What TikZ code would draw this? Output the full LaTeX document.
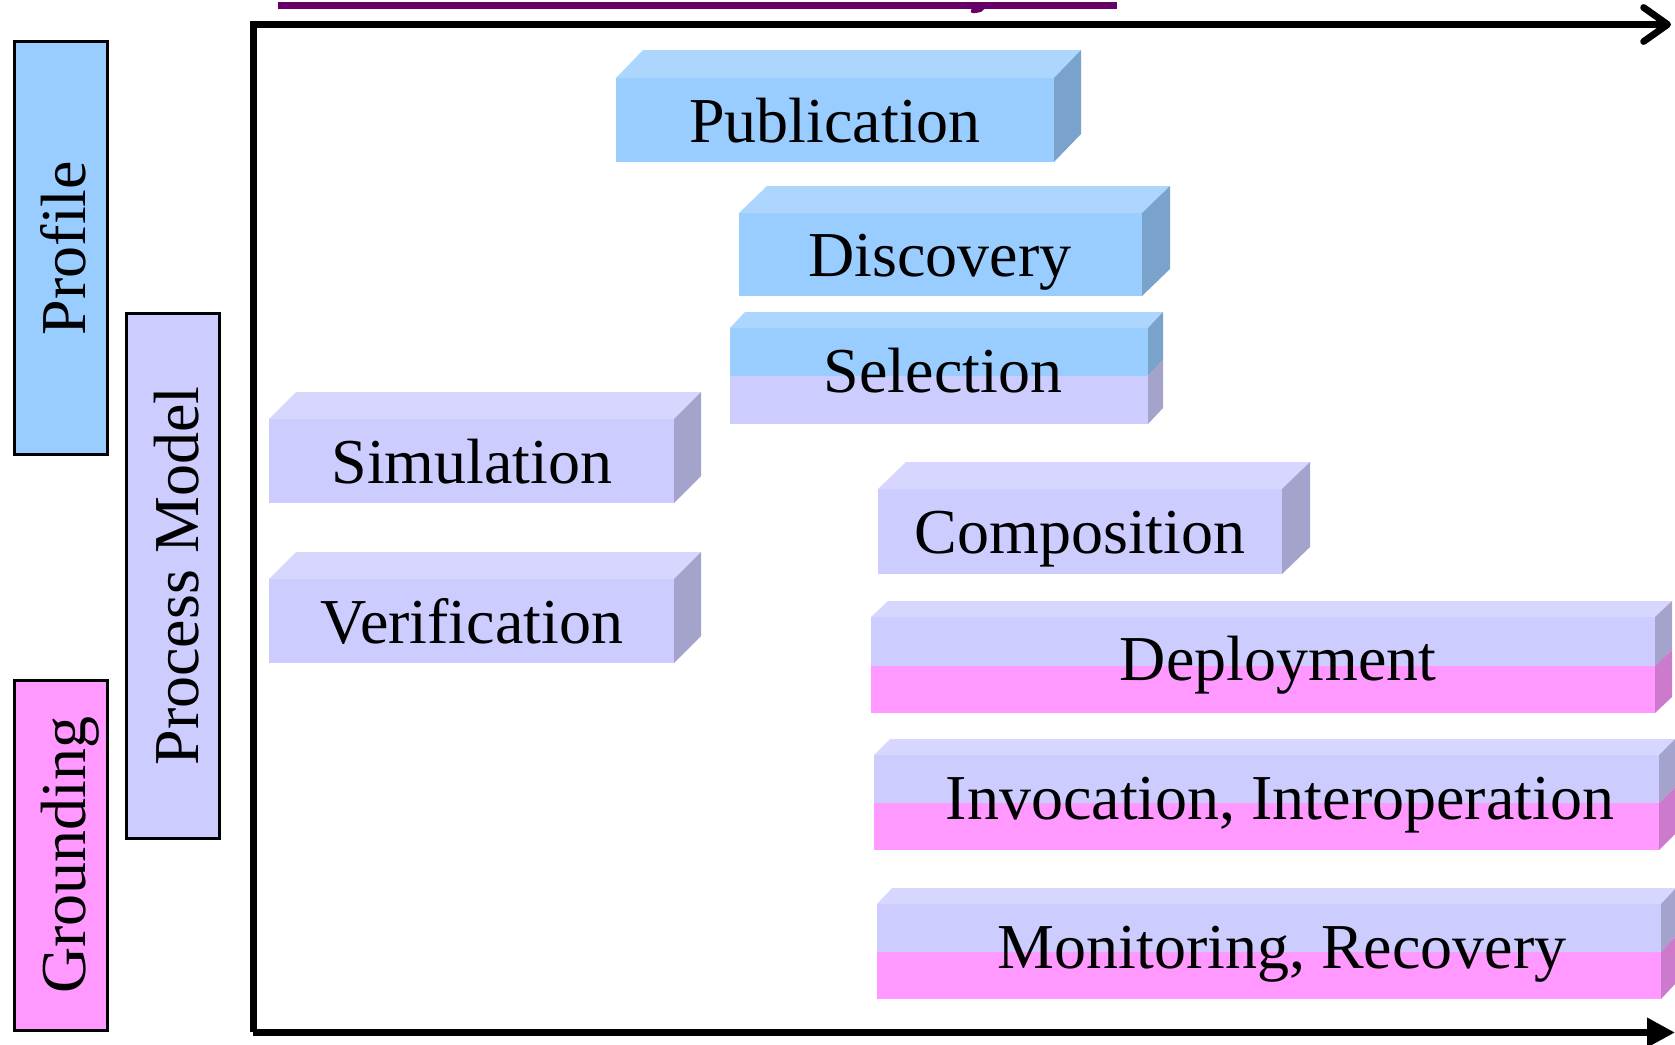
\documentclass[tikz,border=0pt]{standalone}
\usepackage{fontspec}
\setmainfont{Liberation Serif}
\usetikzlibrary{arrows.meta}
\definecolor{bluefront}{HTML}{99CCFF}
\definecolor{bluetop}{HTML}{ADD6FF}
\definecolor{blueside}{HTML}{7AA3CC}
\definecolor{lavfront}{HTML}{CCCCFF}
\definecolor{lavtop}{HTML}{D6D6FF}
\definecolor{lavside}{HTML}{A3A3CC}
\definecolor{pinkfront}{HTML}{FF99FF}
\definecolor{pinktop}{HTML}{FFADFF}
\definecolor{pinkside}{HTML}{CC7ACC}
\definecolor{purp}{HTML}{660066}
% one-colour 3D bar: x1, y1(top), x2, y2(bottom), dx, dy, colour family
\newcommand\boxone[7]{%
  \fill[#7front] (#1,#2) rectangle (#3,#4);
  \fill[#7top] (#1,#2) -- (#1+#5,#2-#6) -- (#3+#5,#2-#6) -- (#3,#2) -- cycle;
  \fill[#7side] (#3,#2) -- (#3+#5,#2-#6) -- (#3+#5,#4-#6) -- (#3,#4) -- cycle;}
% two-colour 3D bar: x1, y1, x2, y2, ysplit, dx, dy, upper family, lower family
\newcommand\boxtwo[9]{%
  \fill[#8front] (#1,#2) rectangle (#3,#5);
  \fill[#9front] (#1,#5) rectangle (#3,#4);
  \fill[#8top] (#1,#2) -- (#1+#6,#2-#7) -- (#3+#6,#2-#7) -- (#3,#2) -- cycle;
  \fill[#8side] (#3,#2) -- (#3+#6,#2-#7) -- (#3+#6,#5-#7) -- (#3,#5) -- cycle;
  \fill[#9side] (#3,#5) -- (#3+#6,#5-#7) -- (#3+#6,#4-#7) -- (#3,#4) -- cycle;}
\begin{document}
\begin{tikzpicture}[x=1pt,y=-1pt,
  lbl/.style={font=\fontsize{64}{72}\selectfont, inner sep=0pt, anchor=base},
  sidebar/.style={draw=black, line width=3pt, inner sep=0pt},
  axis/.style={line width=6.8pt}]
\useasboundingbox (0,0) rectangle (1675,1044);
% clipped title underline
\draw[purp, line width=6.7pt] (278,5.3) -- (1117,5.3);
\draw[purp, line width=4.5pt, line cap=round] (983,6) .. controls (981,10) .. (973,11);
% axes
\coordinate (origin) at (253.3,1032);
\coordinate (ytop) at (253.3,24.5);
\coordinate (xtop) at (1671,24.5);
\coordinate (xstart) at (253,1032.5);
\coordinate (xbot) at (1675,1032.5);
\draw[axis, line join=miter, -{Straight Barb[length=24pt,width=34pt,round]}] (origin) -- (ytop) -- (xtop);
\draw[axis, -{Triangle[length=28pt,width=28pt]}] (xstart) -- (xbot);
% side bars
\node[sidebar, fill=bluefront, minimum width=93pt, minimum height=413pt] (profbar) at (61,248) {};
\node[sidebar, fill=lavfront, minimum width=93pt, minimum height=525pt] (procbar) at (173,576) {};
\node[sidebar, fill=pinkfront, minimum width=93pt, minimum height=350pt] (grndbar) at (61,855.5) {};
\node[lbl, rotate=90] (proftxt) at (85.5,248) {Profile};
\node[lbl, rotate=90] (proctxt) at (198,576) {Process Model};
\node[lbl, rotate=90] (grndtxt) at (85.5,855) {Grounding};
% 3D bars
\boxone{616}{78}{1054}{162}{27}{28}{blue}
\boxone{739}{213}{1142}{296}{28}{27}{blue}
\boxtwo{730}{328}{1148}{424}{376}{15}{16}{blue}{lav}
\boxone{269}{419}{674}{503}{27}{27}{lav}
\boxone{269}{579}{674}{663}{27}{27}{lav}
\boxone{878}{489}{1282}{574}{28}{27}{lav}
\boxtwo{871}{617}{1655}{713}{666}{17}{16}{lav}{pink}
\boxtwo{874}{755}{1659}{850}{803}{16}{16}{lav}{pink}
\boxtwo{877}{904}{1661}{999}{952}{15}{16}{lav}{pink}
% labels
\node[lbl] (pub) at (835,142) {Publication};
\node[lbl] (disc) at (940,276) {Discovery};
\node[lbl] (sel) at (943,392) {Selection};
\node[lbl] (sim) at (472,483) {Simulation};
\node[lbl] (ver) at (472,643) {Verification};
\node[lbl] (comp) at (1080,553) {Composition};
\node[lbl] (depl) at (1278,680) {Deployment};
\node[lbl] (invo) at (1280,819) {Invocation, Interoperation};
\node[lbl] (moni) at (1282,968) {Monitoring, Recovery};
\end{tikzpicture}
\end{document}
